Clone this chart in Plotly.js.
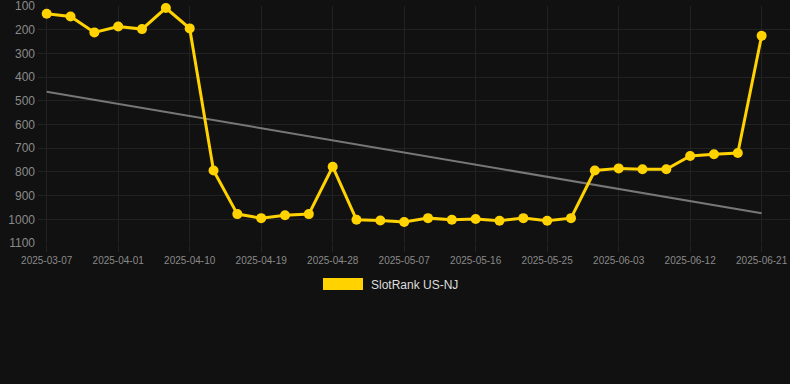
<!DOCTYPE html>
<html>
<head>
<meta charset="utf-8">
<script src="https://cdn.plot.ly/plotly-3.0.1.min.js"></script>
<style>
  html, body { margin: 0; padding: 0; background: #111111; }
  #chart { width: 790px; height: 384px; }
</style>
</head>
<body>
<div id="chart"></div>
<script>
const dates = [
  "2025-03-07", "2025-03-16", "2025-03-25", "2025-04-01", "2025-04-04", "2025-04-07",
  "2025-04-10", "2025-04-13", "2025-04-16", "2025-04-19", "2025-04-22", "2025-04-25",
  "2025-04-28", "2025-05-01", "2025-05-04", "2025-05-07", "2025-05-10", "2025-05-13",
  "2025-05-16", "2025-05-19", "2025-05-22", "2025-05-25", "2025-05-28", "2025-05-31",
  "2025-06-03", "2025-06-06", "2025-06-09", "2025-06-12", "2025-06-15", "2025-06-18",
  "2025-06-21"
];
const ranks = [
  132, 144, 211, 186, 197, 108,
  194, 794, 978, 995, 983, 978,
  778, 1002, 1005, 1011, 995, 1002,
  999, 1006, 995, 1006, 995, 794,
  785, 789, 789, 733, 725, 720,
  225
];
const yTicks = [100, 200, 300, 400, 500, 600, 700, 800, 900, 1000, 1100];
const tickLabels = dates.filter((d, i) => i % 3 === 0);
const seriesName = "SlotRank US-NJ";

// linear regression trend
const n = ranks.length;
const xs = ranks.map((_, i) => i);
const mx = xs.reduce((a, b) => a + b, 0) / n;
const my = ranks.reduce((a, b) => a + b, 0) / n;
let sxy = 0, sxx = 0;
for (let i = 0; i < n; i++) { sxy += (xs[i] - mx) * (ranks[i] - my); sxx += (xs[i] - mx) ** 2; }
const slope = sxy / sxx;
const intercept = my - slope * mx;
const trend = xs.map(x => intercept + slope * x);

const W = 790, H = 384;
const M = { l: 38, r: 0, t: 6, b: 141 };
const plotW = W - M.l - M.r, plotH = H - M.t - M.b;
const px = x => (x - M.l) / plotW;
const py = y => (H - M.b - y) / plotH;

const traces = [
  {
    x: dates, y: trend, type: "scatter", mode: "lines",
    line: { color: "#777777", width: 2 },
    hoverinfo: "skip", showlegend: false
  },
  {
    x: dates, y: ranks, type: "scatter", mode: "lines+markers",
    name: seriesName, showlegend: false,
    line: { color: "#FFD200", width: 3 },
    marker: { color: "#FFD200", size: 10 },
    cliponaxis: false
  }
];

const layout = {
  width: W, height: H,
  paper_bgcolor: "#111111", plot_bgcolor: "#111111",
  margin: M,
  font: { family: "Liberation Sans, Arial, sans-serif", color: "#8a8a8a" },
  showlegend: false,
  xaxis: {
    type: "category",
    range: [-0.365, 31.19],
    tickmode: "array", tickvals: tickLabels, ticktext: tickLabels,
    tickfont: { size: 10, color: "#8a8a8a" },
    tickangle: 0,
    showgrid: true, gridcolor: "#222222", gridwidth: 1,
    ticks: "outside", ticklen: 8, tickcolor: "#222222",
    zeroline: false, showline: false
  },
  yaxis: {
    range: [1100, 99.5],
    tickmode: "array", tickvals: yTicks,
    tickfont: { size: 12, color: "#8a8a8a" },
    ticklabeloverflow: "allow",
    showgrid: true, gridcolor: "#222222", gridwidth: 1,
    ticks: "", ticklabelstandoff: 2,
    zeroline: false, showline: false
  },
  shapes: [
    {
      type: "rect", xref: "paper", yref: "paper",
      x0: px(323), x1: px(363), y0: py(290), y1: py(278),
      fillcolor: "#FFD200", line: { width: 0 }
    }
  ],
  annotations: [
    {
      xref: "paper", yref: "paper", x: px(369), y: py(284.5),
      xanchor: "left", yanchor: "middle", showarrow: false,
      text: seriesName, font: { size: 12, color: "#dddddd" }
    }
  ]
};

Plotly.newPlot("chart", traces, layout, { displayModeBar: false, staticPlot: true });
</script>
</body>
</html>
